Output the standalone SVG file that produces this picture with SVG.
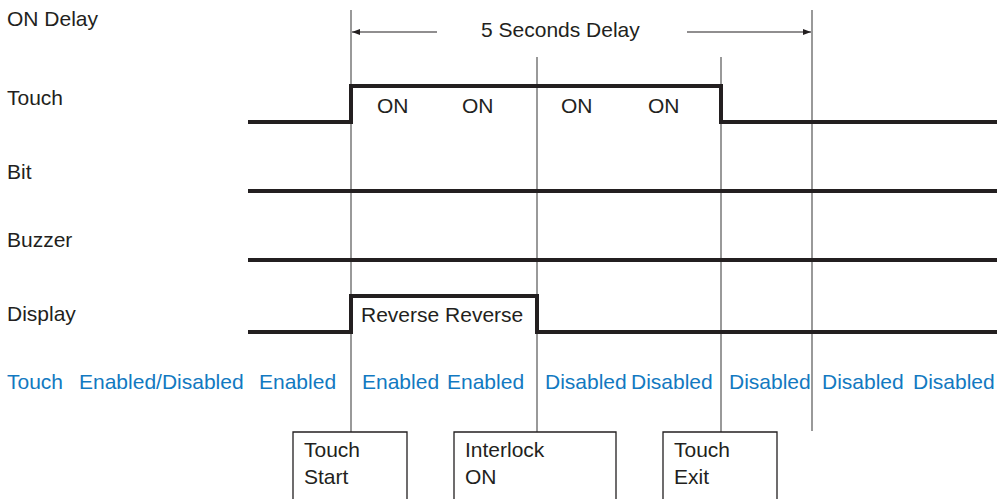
<svg xmlns="http://www.w3.org/2000/svg" width="1005" height="499" viewBox="0 0 1005 499">
<style>
text{font-family:"Liberation Sans",Arial,sans-serif;font-size:21px;fill:#231f20}
.blue{fill:#1279c1}
.sig{fill:none;stroke:#231f20;stroke-width:4;stroke-linejoin:miter}
.guide{fill:none;stroke:#555;stroke-width:1.2}
.box{fill:#fff;stroke:#231f20;stroke-width:1.3}
.arr{fill:none;stroke:#231f20;stroke-width:1.2}
</style>
<defs>
<marker id="ah" viewBox="0 0 8 6" refX="8" refY="3" markerWidth="8" markerHeight="6" markerUnits="userSpaceOnUse" orient="auto">
<path d="M0,0 L8,3 L0,6 Z" fill="#231f20"/>
</marker>
</defs>
<rect width="1005" height="499" fill="#fff"/>
<g id="labels">
<text x="7" y="26">ON Delay</text>
<text x="7" y="105">Touch</text>
<text x="7" y="179">Bit</text>
<text x="7" y="247">Buzzer</text>
<text x="7" y="321">Display</text>
</g>
<g id="connectors">
<line class="guide" x1="351" y1="10" x2="351" y2="432"/>
<line class="guide" x1="537" y1="57" x2="537" y2="432"/>
<line class="guide" x1="721" y1="57" x2="721" y2="432"/>
<line class="guide" x1="812" y1="10" x2="812" y2="431"/>
<line class="arr" x1="437" y1="32" x2="352" y2="32" marker-end="url(#ah)"/>
<line class="arr" x1="687" y1="32" x2="811" y2="32" marker-end="url(#ah)"/>
</g>
<g id="delay-label"><text x="481" y="37">5 Seconds Delay</text></g>
<g id="signal-touch">
<polyline class="sig" points="248,122 351,122 351,86 721,86 721,122 997,122"/>
<text x="377" y="113">ON</text>
<text x="462" y="113">ON</text>
<text x="561" y="113">ON</text>
<text x="648" y="113">ON</text>
</g>
<g id="signal-bit"><line class="sig" x1="248" y1="191" x2="997" y2="191"/></g>
<g id="signal-buzzer"><line class="sig" x1="248" y1="260" x2="997" y2="260"/></g>
<g id="signal-display">
<polyline class="sig" points="248,332 351,332 351,296 537,296 537,332 997,332"/>
<text x="361" y="322">Reverse Reverse</text>
</g>
<g id="touch-state">
<text class="blue" x="7" y="389">Touch</text>
<text class="blue" x="79" y="389">Enabled/Disabled</text>
<text class="blue" x="259" y="389">Enabled</text>
<text class="blue" x="362" y="389">Enabled</text>
<text class="blue" x="447" y="389">Enabled</text>
<text class="blue" x="545" y="389">Disabled</text>
<text class="blue" x="631" y="389">Disabled</text>
<text class="blue" x="729" y="389">Disabled</text>
<text class="blue" x="822" y="389">Disabled</text>
<text class="blue" x="913" y="389">Disabled</text>
</g>
<g id="box-touch-start">
<path class="box" d="M293,500 L293,432 L407,432 L407,500"/>
<text x="304" y="457">Touch</text>
<text x="304" y="484">Start</text>
</g>
<g id="box-interlock-on">
<path class="box" d="M454,500 L454,432 L616,432 L616,500"/>
<text x="465" y="457">Interlock</text>
<text x="465" y="484">ON</text>
</g>
<g id="box-touch-exit">
<path class="box" d="M663,500 L663,432 L777,432 L777,500"/>
<text x="674" y="457">Touch</text>
<text x="674" y="484">Exit</text>
</g>
</svg>
